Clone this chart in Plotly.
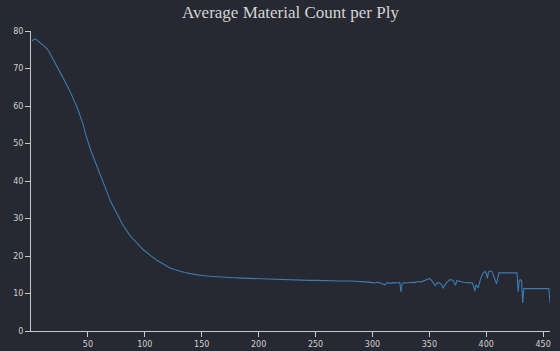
import plotly.graph_objects as go

ply = [1, 2, 4, 6, 8, 10, 12, 14, 16, 18, 20, 22, 24, 26, 28, 30, 32, 34, 36, 38, 40,
       42, 44, 46, 48, 50, 52, 54, 56, 58, 60, 62, 64, 66, 68, 70, 72, 74, 76, 78, 80,
       82, 84, 86, 88, 90, 93, 96, 99, 102, 106, 110, 114, 118, 122, 126, 130, 135, 140,
       145, 150, 157, 164, 171, 178, 185, 193, 200, 207, 214, 222, 229, 237, 244, 251,
       258, 266, 273, 280, 287, 294, 300, 302, 305, 308, 311, 313, 316, 319, 322, 324,
       325, 326, 328, 331, 334, 337, 340, 343, 346, 348, 350, 352, 354, 355, 357, 359,
       361, 362, 363, 365, 367, 368, 370, 371, 372, 373, 374, 376, 377, 380, 384, 388,
       390, 391, 392, 393, 394, 395, 397, 399, 400, 401, 402, 403, 405, 406, 408, 409,
       410, 411, 415, 420, 424, 427, 428, 429, 430, 431, 432, 433, 440, 447, 455, 456]

material = [77.3, 77.7, 77.9, 77.4, 76.9, 76.3, 75.9, 75.3, 74.4, 73.3, 72.0, 70.9, 70.0,
            69.0, 67.7, 66.4, 65.3, 64.1, 62.8, 61.3, 60.0, 58.4, 56.8, 54.9, 52.5, 50.3,
            48.6, 47.0, 45.5, 43.8, 42.2, 40.9, 39.6, 37.9, 36.1, 34.5, 33.4, 32.3, 31.1,
            29.9, 28.6, 27.6, 26.7, 25.9, 25.1, 24.4, 23.4, 22.5, 21.6, 20.8, 19.9, 19.0,
            18.2, 17.5, 16.8, 16.4, 16.0, 15.6, 15.3, 15.0, 14.8, 14.6, 14.4, 14.3, 14.2,
            14.1, 14.0, 13.9, 13.8, 13.8, 13.7, 13.6, 13.5, 13.5, 13.5, 13.4, 13.4, 13.35,
            13.35, 13.3, 13.1, 12.9, 12.8, 13.0, 12.6, 12.3, 12.9, 12.7, 12.9, 12.8, 13.0,
            10.4, 12.6, 12.9, 12.8, 13.0, 12.9, 13.2, 13.1, 13.4, 13.6, 14.0, 13.5, 12.3,
            12.1, 12.9, 12.8, 12.3, 11.4, 11.9, 12.9, 13.4, 13.7, 13.6, 13.5, 12.6, 12.2,
            13.4, 13.2, 13.1, 13.0, 12.9, 12.8, 10.6, 12.4, 11.8, 11.5, 12.8, 13.9, 15.3,
            15.9, 15.4, 14.0, 15.8, 16.0, 15.9, 15.0, 13.5, 12.6, 13.8, 15.5, 15.5, 15.5,
            15.5, 15.5, 10.4, 13.5, 13.7, 13.4, 7.5, 11.3, 11.3, 11.3, 11.3, 7.5]

x_ticks = [50, 100, 150, 200, 250, 300, 350, 400, 450]
y_ticks = [0, 10, 20, 30, 40, 50, 60, 70, 80]

bg = "#262931"
axis_col = "#c8c8c8"

fig = go.Figure()
fig.add_trace(go.Scatter(x=ply, y=material, mode="lines",
                         line=dict(color="#3c7ab0", width=1.1),
                         hoverinfo="skip", showlegend=False))

fig.update_layout(
    width=560, height=351,
    margin=dict(l=31, r=10, t=31, b=20, autoexpand=False),
    paper_bgcolor=bg, plot_bgcolor=bg,
    title=dict(text="Average Material Count per Ply",
               font=dict(family="Liberation Serif", size=17, color="#d4d4d4"),
               x=0.5, xanchor="center", xref="paper",
               y=1 - 12 / 351, yref="container", yanchor="middle"),
    font=dict(family="DejaVu Sans", size=8, color="#d0d0d0"),
)
fig.update_xaxes(range=[0, 456], tickvals=x_ticks, ticktext=[str(v) for v in x_ticks],
                 showgrid=False, zeroline=False, showline=True, linecolor=axis_col,
                 linewidth=1, ticks="outside", ticklen=5, tickcolor=axis_col, tickwidth=1,
                 automargin=False)
fig.update_yaxes(range=[0, 80], tickvals=y_ticks, ticktext=[str(v) for v in y_ticks],
                 showgrid=False, zeroline=False, showline=True, linecolor=axis_col,
                 linewidth=1, ticks="outside", ticklen=5, tickcolor=axis_col, tickwidth=1,
                 automargin=False)

fig.write_html("out.html")
